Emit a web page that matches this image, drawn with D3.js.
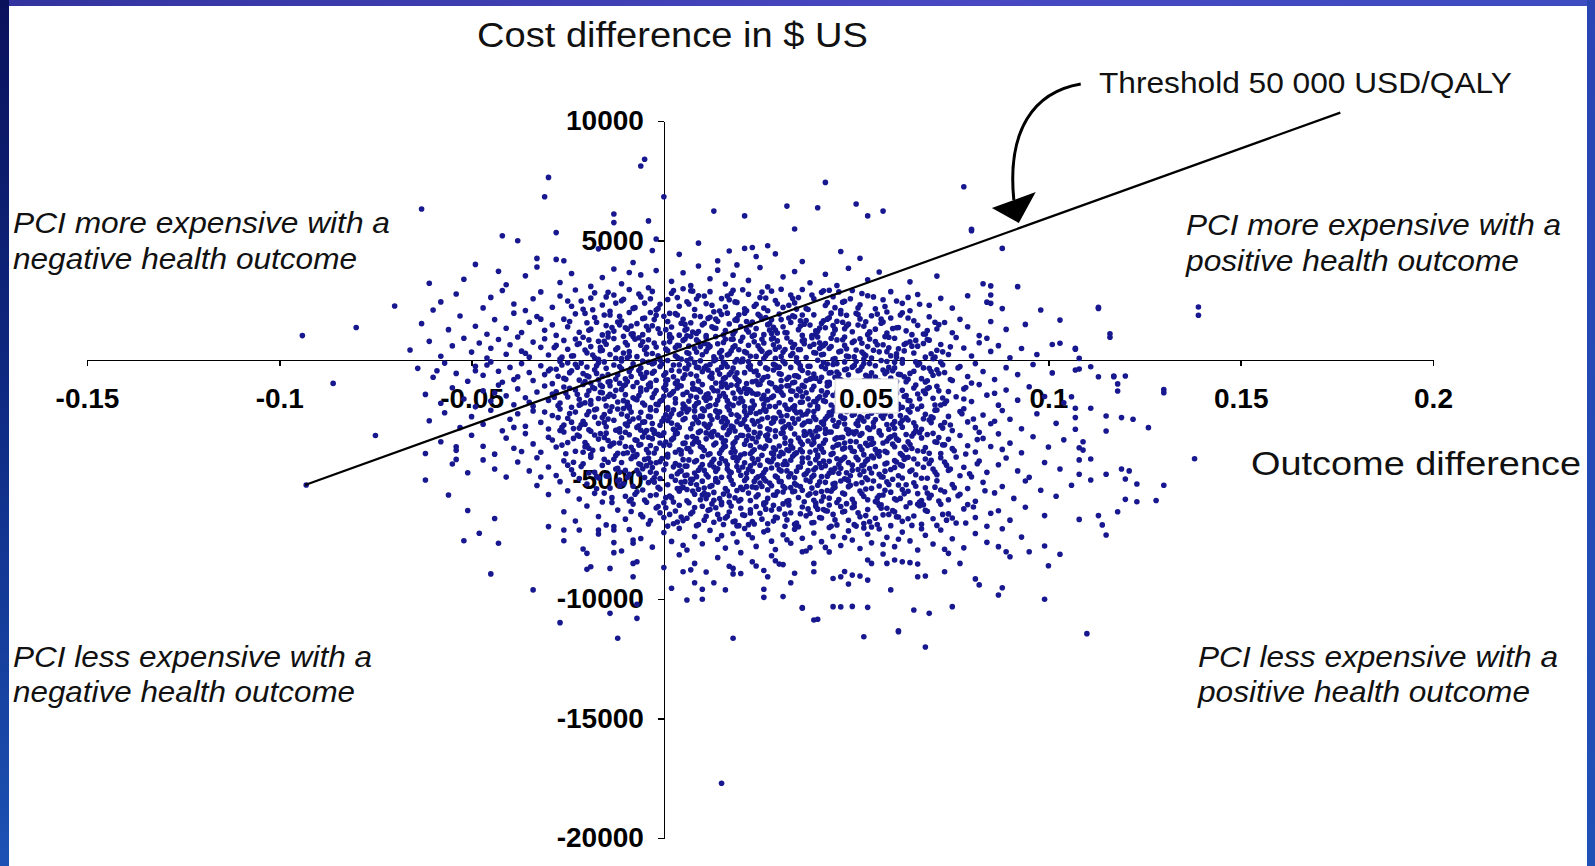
<!DOCTYPE html>
<meta charset="utf-8">
<title>PCI cost-effectiveness plane</title>
<style>

body {
  margin: 0;
  background: #fff;
}

svg {
  display: block;
  font-family: "Liberation Sans", Arial, sans-serif;
}

.axis path, .axis line {
  stroke: #000;
  stroke-width: 1.6;
  fill: none;
  shape-rendering: crispEdges;
}

.axis text, .tick-box text {
  font-size: 28px;
  font-weight: bold;
  fill: #000;
}

.label {
  fill: #111;
}

.quad {
  font-size: 29px;
  font-style: italic;
}

.dot {
  fill: #17178f;
}

</style>
<body>
<script src="https://d3js.org/d3.v7.min.js"></script>
<script>

var xTicks = [-0.15, -0.1, -0.05, 0.05, 0.1, 0.15, 0.2];
var yTicks = [10000, 5000, -5000, -10000, -15000, -20000];

// threshold 50 000 USD/QALY, drawn between its two visible ends
var thresholdLine = [[-0.0933, -5230], [0.1759, 10350]];

// curved arrow pointing at the threshold line (data units)
var arrowCurve = [[0.1084, 11548], [0.0962, 11213], [0.0892, 9623], [0.0910, 6694]];
var arrowHead = [[0.0853, 6360], [0.0967, 7029], [0.0923, 5732]];

// [outcome difference, cost difference] -- outliers and the thin edges of the cloud
var sparsePoints = [
  [-.005,8400],[-.006,8120],[-.030,7640],[-.031,6830],[.000,6830],[-.063,6320],[.013,6230],[.021,6030],[-.013,6110],
  [-.013,5750],[-.004,5820],[-.028,5330],[-.042,5200],[-.038,4990],[-.002,5060],[-.049,4000],[-.033,4250],[-.026,4150],
  [-.061,3210],[-.070,2260],[-.060,2090],[.017,4560],[.021,4670],[.023,4710],[.029,4440],
  [.042,7430],[.078,7250],[.032,6440],[.040,6370],[.050,6530],[.057,6230],[.053,6030],[.034,5480],[.080,5410],[.080,5470],
  [.088,4670],[.113,2160],[.116,950],[.103,1670],[.092,3070],[.098,2090],[.085,3100],[.085,2720],[.085,2370],
  [-.094,1020],[-.080,1360],[-.086,-980],[-.075,-3160],[-.093,-5230],[.139,2220],[.139,1870],[.138,-4130],[.116,1100],
  [.130,-1240],[.110,-11450],[.015,-17710],[.130,-5240],[.128,-5880],
  [.130,-1370],[.126,-2830],[.122,-2480],[.119,-2410],[.115,-2970],[.115,-2340],[.118,-1300],[.118,-1000],[.117,-670],
  [.120,-670],[.099,-10010],[.100,-8610],[.087,-9830],[.088,-9530],[.082,-9410],[.081,-9160],[.075,-10320],[.069,-10600],
  [.065,-10460],[.061,-11370],[.052,-11580],[.040,-10850],[.044,-10320],[.046,-10330],[.049,-10310],[.053,-10350],
  [.036,-10360],[.103,-8130],[.108,-6670],[.114,-6900],[.115,-7320],[.113,-6510],[.118,-6350],[.120,-5830],[.123,-5930],
  [.119,-4560],[.121,-4640],[.123,-5190],[.115,-4780],[.120,-4980],[.111,-4140],[.111,-5020],[.108,-4780],[.109,-3420],
  [.108,-3670],[.107,-2900],[.111,-2020],[.107,-2020],[.106,-1540],
  [-.059,-450],[-.049,-450],[-.046,-210],[-.062,-3910],[-.062,-5020],[-.056,-5650],[-.051,-6300],[-.052,-7560],
  [-.048,-7250],[-.044,-6630],[-.045,-8950],[-.043,-7670],[-.054,-3630],[-.054,-4160],[-.034,-9620],[-.019,-8650],
  [-.014,-8720],[-.008,-9070],[-.026,-7110],[-.022,-7110],[-.017,-7110],[-.013,-7110],[-.027,-10990],[-.007,-10220],
  [-.007,-10810],[-.012,-11640],[-.020,-8090],[-.020,-8760],[-.008,-8510],[-.007,-8440],[-.008,-7670],[-.008,-7530],
  [-.013,-8060],[-.014,-10600],[.018,-11640],[.068,-12010],[.061,-11330],
  [.107,450],[.108,70],[.107,-420],[.111,-280],[.113,-700],[.117,-700],[.103,700],[.113,2210],[.107,490],
  [.002,-9550],[.005,-8860],[.006,-10040],[.008,-9320],[.010,-10010],[.010,-9590],[.013,-9320],[.016,-9620],[.018,-8720],
  [.020,-8930],[.026,-9590],[.026,-9930],[.031,-9900],[.036,-10390],[.039,-10880],[.027,-9070],[.030,-8540],[.033,-9320],
  [.036,-8020],[.039,-8510],[.039,-8860],[.044,-9140],[.046,-9070],[.048,-9370],[.049,-9000],[.051,-9040],[.053,-9210],
  [.054,-8510],[.053,-8370],[.057,-8120],[.058,-8510],[.060,-8370],[.062,-8440],[.064,-8480],[.066,-8540],[.066,-9070],
  [.068,-9040],[.073,-8860],[.074,-8090],[.077,-8510],[.087,-7810],[.089,-8020],[.090,-8230],[.095,-8020],[.059,-9620]
];

// the body of the cloud, band by band (cost bands of 1000)
var cloudPoints = [
  // 4000 .. 5000
  [-.028,4210],[-.017,4650],[-.008,4080],[.004,4420],[.009,4890],[.014,4150],[.024,4330],[.027,4780],[.036,4120],
  [.046,4540],[.051,4260],[-.003,4580],
  // 3000 .. 4000
  [-.052,3380],[-.043,3710],[-.041,3150],[-.036,3520],[-.033,3890],[-.027,3240],[-.024,3620],[-.019,3080],[-.016,3450],
  [-.013,3810],[-.011,3190],[-.006,3560],[-.004,3020],[-.002,3740],[.002,3290],[.005,3650],[.007,3110],[.009,3930],
  [.012,3400],[.014,3760],[.016,3180],[.018,3550],[.022,3330],[.025,3870],[.027,3060],[.031,3480],[.034,3700],[.038,3230],
  [.042,3590],[.045,3120],[.048,3840],[.053,3360],[.056,3680],[.064,3270],[.071,3510],[.083,3190],[.019,3980],[-.009,3660],
  // 2000 .. 3000
  [-.058,2430],[-.054,2760],[-.047,2180],[-.045,2620],[-.042,2910],[-.039,2340],[-.036,2070],[-.034,2560],[-.032,2850],
  [-.029,2210],[-.027,2680],[-.025,2470],[-.023,2930],[-.021,2120],[-.019,2590],[-.018,2810],[-.016,2300],[-.014,2040],
  [-.013,2720],[-.011,2480],[-.009,2950],[-.008,2160],[-.006,2640],[-.005,2380],[-.003,2870],[-.002,2090],[.001,2530],
  [.002,2790],[.004,2250],[.005,2980],[.006,2440],[.008,2110],[.009,2690],[.011,2360],[.012,2860],[.013,2020],[.015,2570],
  [.016,2230],[.018,2920],[.019,2410],[.021,2140],[.022,2750],[.024,2330],[.025,2610],[.027,2060],[.028,2880],[.029,2490],
  [.031,2200],[.033,2720],[.034,2390],[.036,2950],[.037,2150],[.039,2560],[.041,2830],[.042,2280],[.044,2650],[.046,2070],
  [.047,2460],[.049,2910],[.051,2310],[.053,2690],[.055,2140],[.057,2520],[.059,2860],[.062,2370],[.064,2060],[.066,2740],
  [.069,2290],[.072,2580],[.075,2170],[.079,2690],[.084,2420],[.088,2150],[-.015,2640],[.007,2900],[.017,2520],[.026,2170],
  [.035,2610],[.043,2920],[-.001,2330],[-.024,2250],[.058,2010],
  // 1000 .. 2000
  [-.063,1520],[-.056,1270],[-.053,1840],[-.049,1410],[-.046,1080],[-.044,1690],[-.041,1330],[-.039,1960],[-.037,1150],
  [-.035,1580],[-.033,1820],[-.031,1240],[-.029,1470],[-.028,1030],[-.026,1710],[-.025,1390],[-.023,1930],[-.022,1160],
  [-.020,1560],[-.019,1290],[-.018,1780],[-.016,1050],[-.015,1440],[-.014,1880],[-.013,1210],[-.011,1630],[-.010,1350],
  [-.009,1990],[-.008,1100],[-.007,1520],[-.005,1760],[-.004,1260],[-.003,1430],[-.002,1870],[-.001,1120],[.001,1610],
  [.002,1380],[.003,1940],[.004,1040],[.005,1700],[.006,1300],[.007,1560],[.008,1850],[.009,1190],[.010,1470],[.011,1020],
  [.012,1790],[.013,1340],[.014,1620],[.015,1900],[.016,1230],[.017,1510],[.018,1080],[.019,1730],[.020,1400],[.021,1960],
  [.022,1170],[.023,1590],[.024,1320],[.025,1840],[.026,1060],[.027,1480],[.028,1680],[.029,1250],[.030,1920],[.031,1390],
  [.032,1140],[.033,1570],[.034,1810],[.035,1270],[.036,1030],[.037,1650],[.038,1460],[.039,1890],[.040,1200],[.041,1540],
  [.042,1350],[.043,1770],[.044,1090],[.045,1620],[.046,1940],[.047,1310],[.048,1500],[.049,1180],[.051,1720],[.052,1410],
  [.053,1060],[.054,1850],[.055,1290],[.057,1590],[.058,1130],[.059,1760],[.061,1360],[.062,1980],[.063,1220],[.065,1640],
  [.066,1450],[.068,1080],[.069,1810],[.071,1300],[.073,1570],[.075,1140],[.077,1700],[.079,1390],[.082,1020],[.085,1610],
  [.089,1280],[.094,1490],[-.012,1590],[.000,1830],[.006,1010],[.019,1660],[.028,1110],[.036,1880],[.044,1440],[.050,1950],
  [-.032,1710],
  // 0 .. 1000
  [-.066,420],[-.061,780],[-.058,160],[-.055,590],[-.052,910],[-.050,330],[-.048,710],[-.046,80],[-.045,490],[-.043,860],
  [-.041,240],[-.040,640],[-.038,960],[-.037,370],[-.035,120],[-.034,750],[-.032,530],[-.031,890],[-.030,210],[-.028,610],
  [-.027,40],[-.026,820],[-.025,450],[-.024,170],[-.022,690],[-.021,950],[-.020,300],[-.019,560],[-.018,90],[-.017,780],
  [-.016,410],[-.015,660],[-.014,230],[-.013,900],[-.012,510],[-.011,60],[-.010,730],[-.009,350],[-.008,980],[-.007,140],
  [-.006,620],[-.005,430],[-.004,850],[-.003,270],[-.002,540],[-.001,10],[.000,710],[.001,390],[.002,930],[.003,180],
  [.004,600],[.005,820],[.006,310],[.007,50],[.008,480],[.009,760],[.010,220],[.011,940],[.012,570],[.013,130],[.014,680],
  [.015,400],[.016,870],[.017,260],[.018,530],[.019,20],[.020,790],[.021,350],[.022,620],[.023,990],[.024,150],[.025,460],
  [.026,710],[.027,280],[.028,880],[.029,70],[.030,540],[.031,330],[.032,920],[.033,190],[.034,650],[.035,440],[.036,800],
  [.037,100],[.038,570],[.039,310],[.040,960],[.041,220],[.042,690],[.043,480],[.044,30],[.045,840],[.046,370],[.047,610],
  [.048,140],[.049,730],[.050,420],[.051,890],[.052,250],[.053,560],[.054,80],[.055,770],[.056,340],[.057,640],[.059,180],
  [.060,910],[.061,470],[.062,20],[.063,700],[.065,290],[.066,580],[.068,120],[.069,830],[.071,410],[.072,650],[.074,230],
  [.076,940],[.078,500],[.080,170],[.082,720],[.085,360],[.087,600],[.090,90],[.093,480],[.097,230],[.101,650],[-.023,880],
  [-.009,160],[.003,520],[.011,360],[.018,870],[.026,60],[.033,750],[.041,560],[.047,960],[.058,350],[.064,760],[-.017,30],
  [.007,990],[.015,110],[.029,450],[.039,660],[.052,40],[-.036,280],[.070,50],[.084,910],
  // -1000 .. 0
  [-.064,-350],[-.060,-720],[-.057,-130],[-.054,-560],[-.051,-890],[-.049,-260],[-.047,-640],[-.045,-80],[-.043,-470],
  [-.042,-930],[-.040,-310],[-.038,-700],[-.037,-150],[-.035,-520],[-.034,-860],[-.032,-240],[-.031,-610],[-.029,-990],
  [-.028,-390],[-.027,-60],[-.026,-770],[-.024,-450],[-.023,-180],[-.022,-840],[-.021,-570],[-.020,-290],[-.019,-960],
  [-.018,-410],[-.017,-120],[-.016,-680],[-.015,-350],[-.014,-900],[-.013,-210],[-.012,-620],[-.011,-40],[-.010,-790],
  [-.009,-480],[-.008,-160],[-.007,-940],[-.006,-330],[-.005,-710],[-.004,-90],[-.003,-550],[-.002,-850],[-.001,-270],
  [.000,-640],[.001,-20],[.002,-430],[.003,-980],[.004,-200],[.005,-760],[.006,-370],[.007,-590],[.008,-110],[.009,-880],
  [.010,-490],[.011,-250],[.012,-700],[.013,-30],[.014,-420],[.015,-950],[.016,-170],[.017,-610],[.018,-340],[.019,-820],
  [.020,-70],[.021,-530],[.022,-280],[.023,-910],[.024,-460],[.025,-140],[.026,-730],[.027,-380],[.028,-990],[.029,-220],
  [.030,-570],[.031,-50],[.032,-800],[.033,-310],[.034,-660],[.035,-120],[.036,-440],[.037,-870],[.038,-260],[.039,-590],
  [.040,-10],[.041,-720],[.042,-360],[.043,-930],[.044,-190],[.045,-500],[.046,-830],[.047,-80],[.048,-620],[.049,-300],
  [.050,-960],[.051,-410],[.052,-150],[.053,-690],[.054,-540],[.055,-240],[.056,-880],[.057,-420],[.058,-60],[.059,-750],
  [.060,-330],[.061,-600],[.062,-130],[.063,-910],[.065,-470],[.066,-210],[.067,-780],[.069,-350],[.070,-640],[.072,-90],
  [.073,-520],[.075,-860],[.077,-270],[.079,-690],[.081,-150],[.083,-480],[.086,-820],[.089,-320],[.092,-610],[.096,-190],
  [.101,-540],[.108,-380],[-.030,-450],[-.017,-830],[-.006,-590],[.004,-460],[.012,-190],[.019,-540],[.027,-690],
  [.034,-930],[.041,-270],[.047,-410],[.055,-710],[.064,-560],[-.025,-120],[-.011,-370],[.001,-830],[.009,-320],[.016,-730],
  [.022,-60],[.030,-300],[.038,-800],[.045,-150],[.052,-870],[.060,-90],[.068,-920],[-.020,-660],[.006,-20],[.024,-880],
  [.043,-540],[.071,-410],[.080,-960],[-.039,-820],[-.003,-160],[.015,-300],[.035,-710],[.050,-60],[.058,-490],
  // -2000 .. -1000
  [-.062,-1440],[-.058,-1810],[-.055,-1160],[-.052,-1630],[-.049,-1960],[-.047,-1290],[-.045,-1720],[-.043,-1050],
  [-.041,-1500],[-.039,-1870],[-.038,-1210],[-.036,-1580],[-.034,-1930],[-.033,-1340],[-.031,-1090],[-.030,-1690],
  [-.029,-1420],[-.027,-1800],[-.026,-1130],[-.025,-1550],[-.024,-1980],[-.023,-1260],[-.022,-1640],[-.021,-1020],
  [-.020,-1470],[-.019,-1850],[-.018,-1190],[-.017,-1610],[-.016,-1370],[-.015,-1920],[-.014,-1080],[-.013,-1520],
  [-.012,-1760],[-.011,-1230],[-.010,-1450],[-.009,-1940],[-.008,-1110],[-.007,-1660],[-.006,-1320],[-.005,-1880],
  [-.004,-1040],[-.003,-1570],[-.002,-1280],[-.001,-1730],[.000,-1160],[.001,-1990],[.002,-1400],[.003,-1620],[.004,-1070],
  [.005,-1840],[.006,-1350],[.007,-1510],[.008,-1210],[.009,-1780],[.010,-1030],[.011,-1460],[.012,-1910],[.013,-1280],
  [.014,-1680],[.015,-1120],[.016,-1540],[.017,-1830],[.018,-1380],[.019,-1060],[.020,-1600],[.021,-1950],[.022,-1240],
  [.023,-1720],[.024,-1430],[.025,-1010],[.026,-1860],[.027,-1300],[.028,-1570],[.029,-1150],[.030,-1790],[.031,-1470],
  [.032,-1080],[.033,-1650],[.034,-1920],[.035,-1220],[.036,-1530],[.037,-1370],[.038,-1880],[.039,-1100],[.040,-1610],
  [.041,-1290],[.042,-1740],[.043,-1040],[.044,-1480],[.045,-1970],[.046,-1190],[.047,-1560],[.048,-1330],[.049,-1810],
  [.050,-1090],[.051,-1680],[.052,-1410],[.053,-1230],[.054,-1900],[.055,-1520],[.056,-1140],[.057,-1770],[.058,-1360],
  [.059,-1620],[.060,-1050],[.061,-1850],[.062,-1270],[.063,-1490],[.064,-1710],[.065,-1170],[.067,-1930],[.068,-1400],
  [.070,-1600],[.071,-1100],[.073,-1820],[.074,-1320],[.076,-1540],[.078,-1210],[.080,-1740],[.082,-1030],[.084,-1470],
  [.087,-1890],[.089,-1260],[.092,-1680],[.095,-1120],[.099,-1530],[.104,-1790],[-.028,-1330],[-.019,-1700],[-.010,-1040],
  [-.002,-1850],[.005,-1440],[.011,-1690],[.016,-1010],[.023,-1380],[.029,-1950],[.036,-1060],[.042,-1470],[.048,-1640],
  [.055,-1290],[.062,-1980],[-.035,-1770],[-.014,-1430],[.000,-1520],[.008,-1930],[.014,-1300],[.021,-1190],[.027,-1660],
  [.033,-1290],[.039,-1740],[.045,-1350],[.051,-1060],[.059,-1930],[.066,-1420],[-.022,-1890],[-.006,-1170],[.003,-1800],
  [.018,-1900],[.026,-1480],[.040,-1950],[.053,-1620],[.072,-1880],[-.044,-1370],[.012,-1590],[.030,-1220],[.047,-1900],
  [.069,-1150],[.078,-1630],[.086,-1390],[-.008,-1580],[.020,-1340],[.036,-1760],[.057,-1040],[-.016,-1110],[.009,-1250],
  // -3000 .. -2000
  [-.061,-2540],[-.057,-2210],[-.053,-2830],[-.050,-2370],[-.047,-2690],[-.045,-2100],[-.042,-2960],[-.040,-2480],
  [-.038,-2250],[-.036,-2770],[-.034,-2130],[-.032,-2610],[-.030,-2890],[-.029,-2320],[-.027,-2050],[-.026,-2720],
  [-.025,-2440],[-.023,-2180],[-.022,-2850],[-.021,-2560],[-.020,-2290],[-.019,-2980],[-.018,-2080],[-.017,-2650],
  [-.016,-2410],[-.015,-2790],[-.014,-2140],[-.013,-2520],[-.012,-2930],[-.011,-2260],[-.010,-2680],[-.009,-2020],
  [-.008,-2470],[-.007,-2820],[-.006,-2190],[-.005,-2590],[-.004,-2360],[-.003,-2910],[-.002,-2110],[-.001,-2730],
  [.000,-2430],[.001,-2070],[.002,-2640],[.003,-2950],[.004,-2280],[.005,-2500],[.006,-2170],[.007,-2870],[.008,-2390],
  [.009,-2620],[.010,-2040],[.011,-2760],[.012,-2330],[.013,-2990],[.014,-2210],[.015,-2580],[.016,-2460],[.017,-2090],
  [.018,-2810],[.019,-2300],[.020,-2690],[.021,-2150],[.022,-2920],[.023,-2530],[.024,-2240],[.025,-2780],[.026,-2060],
  [.027,-2410],[.028,-2640],[.029,-2960],[.030,-2190],[.031,-2550],[.032,-2320],[.033,-2850],[.034,-2100],[.035,-2470],
  [.036,-2720],[.037,-2260],[.038,-2990],[.039,-2380],[.040,-2030],[.041,-2610],[.042,-2890],[.043,-2200],[.044,-2520],
  [.045,-2770],[.046,-2140],[.047,-2440],[.048,-2930],[.049,-2310],[.050,-2670],[.051,-2080],[.052,-2560],[.053,-2840],
  [.054,-2230],[.055,-2490],[.056,-2960],[.057,-2120],[.058,-2700],[.059,-2350],[.060,-2580],[.061,-2050],[.062,-2810],
  [.063,-2420],[.064,-2180],[.065,-2630],[.067,-2900],[.068,-2270],[.069,-2510],[.071,-2090],[.072,-2740],[.074,-2360],
  [.075,-2950],[.077,-2160],[.079,-2590],[.081,-2830],[.083,-2300],[.085,-2670],[.088,-2110],[.090,-2480],[.093,-2880],
  [.097,-2250],[.102,-2650],[.107,-2410],[-.024,-2600],[-.012,-2050],[-.003,-2660],[.004,-2820],[.010,-2360],[.016,-2730],
  [.021,-2490],[.027,-2880],[.032,-2040],[.038,-2570],[.044,-2130],[.050,-2990],[.057,-2430],[.066,-2050],[-.031,-2180],
  [-.018,-2390],[-.006,-2940],[.002,-2250],[.008,-2130],[.014,-2400],[.019,-2580],[.025,-2170],[.031,-2870],[.036,-2300],
  [.042,-2460],[.047,-2680],[.053,-2370],[.060,-2860],[.070,-2420],[.078,-2040],[-.039,-2820],[-.009,-2570],[.005,-2030],
  [.012,-2690],[.023,-2030],[.029,-2440],[.034,-2640],[.040,-2830],[.046,-2360],[.055,-2060],[.062,-2520],[.086,-2560],
  [-.027,-2950],[.001,-2530],[.017,-2940],[.039,-2160],[.051,-2380],[.073,-2620],
  // -4000 .. -3000
  [-.058,-3420],[-.054,-3780],[-.050,-3150],[-.047,-3610],[-.044,-3940],[-.041,-3270],[-.039,-3690],[-.036,-3080],
  [-.034,-3510],[-.032,-3860],[-.030,-3230],[-.028,-3640],[-.026,-3010],[-.025,-3450],[-.023,-3820],[-.022,-3190],
  [-.020,-3570],[-.019,-3970],[-.017,-3310],[-.016,-3730],[-.015,-3060],[-.013,-3480],[-.012,-3900],[-.011,-3250],
  [-.010,-3620],[-.009,-3130],[-.008,-3790],[-.007,-3370],[-.006,-3540],[-.005,-3040],[-.004,-3880],[-.003,-3290],
  [-.002,-3710],[-.001,-3160],[.000,-3580],[.001,-3950],[.002,-3340],[.003,-3100],[.004,-3760],[.005,-3490],[.006,-3220],
  [.007,-3840],[.008,-3410],[.009,-3030],[.010,-3660],[.011,-3300],[.012,-3920],[.013,-3550],[.014,-3140],[.015,-3770],
  [.016,-3380],[.017,-3020],[.018,-3690],[.019,-3250],[.020,-3980],[.021,-3520],[.022,-3170],[.023,-3830],[.024,-3430],
  [.025,-3060],[.026,-3700],[.027,-3330],[.028,-3890],[.029,-3200],[.030,-3600],[.031,-3050],[.032,-3760],[.033,-3390],
  [.034,-3940],[.035,-3270],[.036,-3530],[.037,-3110],[.038,-3850],[.039,-3460],[.040,-3190],[.041,-3720],[.042,-3350],
  [.043,-3010],[.044,-3900],[.045,-3560],[.046,-3240],[.047,-3680],[.048,-3080],[.049,-3810],[.050,-3420],[.051,-3150],
  [.052,-3960],[.053,-3580],[.054,-3290],[.055,-3740],[.056,-3040],[.057,-3470],[.058,-3870],[.059,-3210],[.060,-3630],
  [.061,-3360],[.062,-3990],[.063,-3120],[.064,-3540],[.066,-3800],[.067,-3260],[.068,-3660],[.070,-3070],[.071,-3440],
  [.072,-3910],[.074,-3320],[.075,-3710],[.077,-3160],[.079,-3590],[.081,-3850],[.083,-3280],[.085,-3620],[.087,-3090],
  [.090,-3480],[.093,-3880],[.096,-3210],[.100,-3640],[.104,-3340],[.109,-3770],[-.021,-3860],[-.010,-3020],[-.001,-3470],
  [.006,-3700],[.012,-3130],[.018,-3500],[.023,-3280],[.029,-3760],[.034,-3100],[.040,-3980],[.045,-3250],[.051,-3620],
  [.058,-3390],[.065,-3070],[-.029,-3350],[-.014,-3600],[-.004,-3230],[.003,-3860],[.009,-3440],[.015,-3260],[.021,-3920],
  [.027,-3130],[.033,-3580],[.039,-3300],[.044,-3650],[.049,-3010],[.056,-3830],[.063,-3740],[.073,-3550],[.082,-3020],
  [-.037,-3830],[-.007,-3960],[.011,-3050],[.025,-3640],[.036,-3840],[.047,-3470],[.060,-3140],[.069,-3900],[-.018,-3140],
  [.000,-3050],[.016,-3610],[.031,-3920],[.042,-3060],[.054,-3520],[.088,-3740],[.020,-3150],
  // -5000 .. -4000
  [-.055,-4350],[-.051,-4720],[-.047,-4180],[-.044,-4560],[-.041,-4900],[-.038,-4270],[-.035,-4640],[-.033,-4090],
  [-.030,-4480],[-.028,-4830],[-.026,-4220],[-.024,-4590],[-.022,-4960],[-.021,-4340],[-.019,-4070],[-.018,-4700],
  [-.016,-4410],[-.015,-4850],[-.013,-4150],[-.012,-4530],[-.011,-4290],[-.009,-4780],[-.008,-4020],[-.007,-4620],
  [-.006,-4380],[-.005,-4920],[-.004,-4110],[-.003,-4500],[-.002,-4740],[-.001,-4250],[.000,-4590],[.001,-4060],
  [.002,-4870],[.003,-4330],[.004,-4680],[.005,-4170],[.006,-4440],[.007,-4990],[.008,-4260],[.009,-4610],[.010,-4040],
  [.011,-4790],[.012,-4390],[.013,-4150],[.014,-4550],[.015,-4910],[.016,-4230],[.017,-4670],[.018,-4080],[.019,-4460],
  [.020,-4820],[.021,-4300],[.022,-4570],[.023,-4120],[.024,-4950],[.025,-4400],[.026,-4710],[.027,-4200],[.028,-4520],
  [.029,-4860],[.030,-4030],[.031,-4370],[.032,-4640],[.033,-4190],[.034,-4930],[.035,-4480],[.036,-4100],[.037,-4750],
  [.038,-4320],[.039,-4590],[.040,-4050],[.041,-4880],[.042,-4420],[.043,-4240],[.044,-4690],[.045,-4130],[.046,-4530],
  [.047,-4970],[.048,-4290],[.049,-4610],[.050,-4070],[.051,-4800],[.052,-4380],[.053,-4160],[.054,-4730],[.055,-4460],
  [.056,-4020],[.057,-4900],[.058,-4310],[.059,-4580],[.060,-4210],[.061,-4840],[.062,-4430],[.063,-4090],[.064,-4660],
  [.066,-4350],[.067,-4950],[.068,-4140],[.070,-4560],[.071,-4800],[.073,-4270],[.074,-4620],[.076,-4060],[.078,-4490],
  [.080,-4890],[.082,-4230],[.084,-4700],[.087,-4380],[.089,-4100],[.092,-4640],[.095,-4910],[.099,-4290],[.103,-4560],
  [.108,-4180],[-.025,-4400],[-.010,-4620],[-.002,-4300],[.006,-4810],[.013,-4480],[.019,-4240],[.026,-4960],[.032,-4370],
  [.039,-4820],[.046,-4200],[.052,-4650],[.060,-4500],[.069,-4330],[-.017,-4930],[-.005,-4160],[.004,-4410],[.010,-4370],
  [.017,-4890],[.023,-4660],[.030,-4580],[.036,-4280],[.043,-4740],[.049,-4400],[.056,-4780],[.065,-4140],[.077,-4840],
  [-.032,-4900],[-.001,-4960],[.015,-4120],[.028,-4250],[.041,-4500],[.054,-4020],[.072,-4090],[.008,-4730],[.033,-4760],
  [.047,-4070],[.062,-4940],
  // -6000 .. -5000
  [-.033,-5250],[-.030,-5630],[-.027,-5090],[-.025,-5470],[-.022,-5820],[-.020,-5190],[-.018,-5580],[-.016,-5940],
  [-.014,-5360],[-.012,-5050],[-.010,-5700],[-.008,-5280],[-.007,-5510],[-.005,-5860],[-.004,-5130],[-.002,-5640],
  [-.001,-5400],[.000,-5970],[.001,-5220],[.002,-5760],[.003,-5030],[.004,-5490],[.005,-5330],[.006,-5890],[.007,-5160],
  [.008,-5620],[.009,-5410],[.010,-5070],[.011,-5800],[.012,-5290],[.013,-5540],[.014,-5110],[.015,-5950],[.016,-5380],
  [.017,-5680],[.018,-5200],[.019,-5460],[.020,-5840],[.021,-5040],[.022,-5570],[.023,-5310],[.024,-5720],[.025,-5150],
  [.026,-5990],[.027,-5430],[.028,-5260],[.029,-5660],[.030,-5080],[.031,-5520],[.032,-5910],[.033,-5340],[.034,-5170],
  [.035,-5750],[.036,-5450],[.037,-5020],[.038,-5600],[.039,-5870],[.040,-5240],[.041,-5500],[.042,-5120],[.043,-5780],
  [.044,-5390],[.045,-5960],[.046,-5060],[.047,-5610],[.048,-5300],[.049,-5830],[.050,-5180],[.051,-5480],[.052,-5710],
  [.053,-5010],[.054,-5370],[.055,-5920],[.056,-5270],[.057,-5650],[.058,-5100],[.059,-5530],[.060,-5810],[.061,-5230],
  [.062,-5420],[.064,-5980],[.065,-5140],[.066,-5590],[.068,-5350],[.069,-5770],[.071,-5050],[.072,-5440],[.074,-5850],
  [.075,-5210],[.077,-5620],[.079,-5380],[.081,-5910],[.083,-5120],[.086,-5560],[.088,-5290],[.091,-5790],[.094,-5060],
  [.098,-5450],[.102,-5700],[.106,-5240],[-.003,-5030],[.006,-5420],[.013,-5870],[.020,-5330],[.027,-5790],[.034,-5490],
  [.041,-5900],[.048,-5050],[.056,-5670],[.063,-5220],[.073,-5510],[.010,-5650],[.017,-5950],[.031,-5280],[.044,-5190],
  [.053,-5850],[-.009,-5900],[.024,-5340],[.038,-5080],[.067,-5880],
  // -7000 .. -6000
  [-.030,-6970],[-.026,-6350],[-.023,-6740],[-.020,-6110],[-.017,-6550],[-.015,-6900],[-.012,-6280],[-.010,-6660],
  [-.008,-6030],[-.006,-6470],[-.004,-6860],[-.002,-6190],[.000,-6590],[.001,-6950],[.003,-6320],[.004,-6080],[.005,-6720],
  [.007,-6430],[.008,-6170],[.009,-6880],[.011,-6540],[.012,-6260],[.013,-6790],[.015,-6050],[.016,-6610],[.017,-6360],
  [.019,-6940],[.020,-6200],[.021,-6500],[.023,-6760],[.024,-6130],[.025,-6410],[.027,-6850],[.028,-6280],[.029,-6570],
  [.031,-6020],[.032,-6690],[.033,-6390],[.035,-6980],[.036,-6150],[.037,-6520],[.039,-6800],[.040,-6240],[.041,-6610],
  [.043,-6070],[.044,-6460],[.045,-6900],[.047,-6330],[.048,-6710],[.049,-6180],[.051,-6560],[.052,-6840],[.053,-6260],
  [.055,-6620],[.056,-6090],[.057,-6480],[.059,-6930],[.060,-6350],[.062,-6750],[.063,-6140],[.065,-6530],[.067,-6870],
  [.068,-6290],[.070,-6640],[.072,-6040],[.074,-6440],[.076,-6820],[.078,-6230],[.081,-6590],[.084,-6960],[.087,-6310],
  [.090,-6700],[.094,-6160],[.099,-6510],[.010,-6120],[.018,-6770],[.026,-6060],[.034,-6870],[.042,-6300],[.050,-6950],
  [.058,-6200],[.066,-6040],[.075,-6610],[-.001,-6390],[.014,-6460],[.022,-6890],[.030,-6230],[.038,-6420],[.046,-6130],
  [.054,-6990],[.061,-6570],[.071,-6920],[.006,-6620],[-.013,-6970],[.079,-6050],[.085,-6410],
  // -8000 .. -7000
  [-.026,-7560],[-.021,-7910],[-.017,-7280],[-.013,-7640],[-.009,-7090],[-.006,-7470],[-.003,-7830],[.000,-7220],
  [.002,-7590],[.004,-7040],[.006,-7950],[.008,-7390],[.010,-7690],[.012,-7130],[.014,-7510],[.016,-7870],[.018,-7260],
  [.019,-7620],[.021,-7050],[.023,-7440],[.024,-7800],[.026,-7190],[.028,-7580],[.029,-7930],[.031,-7310],[.033,-7670],
  [.034,-7080],[.036,-7460],[.038,-7850],[.039,-7240],[.041,-7600],[.043,-7010],[.044,-7380],[.046,-7760],[.048,-7150],
  [.049,-7530],[.051,-7890],[.053,-7290],[.054,-7650],[.056,-7070],[.058,-7420],[.060,-7810],[.062,-7200],[.064,-7570],
  [.066,-7950],[.068,-7330],[.070,-7700],[.072,-7110],[.075,-7480],[.078,-7860],[.081,-7260],[.084,-7630],[.088,-7060],
  [.093,-7410],[.099,-7780],[.015,-7350],[.027,-7120],[.037,-7990],[.047,-7430],[.057,-7720],[.067,-7060],[.005,-7750],
  [.022,-7300],[.032,-7520],[.042,-7840],[.052,-7030],[.061,-7500],[.073,-7920],[-.011,-7990],
  // -9000 .. -8000
  [.000,-8680],[.004,-8150],[.008,-8510],[.011,-8870],[.014,-8270],[.017,-8630],[.020,-8060],[.023,-8440],[.026,-8810],
  [.028,-8190],[.031,-8560],[.034,-8920],[.007,-8780],[.018,-8950],[.029,-8400],[.024,-8620],[.043,-8030],[.047,-8850]
];

// the darkest part of the cloud, where the points pile on top of each other
var cloudCore = [
  // 2000 .. 3000
  [-.0215,2470],[-.0145,2830],[-.0075,2190],[-.0035,2560],[.0025,2910],[.0065,2340],[.0105,2680],[.0145,2050],
  [.0175,2780],[.0235,2250],[.0265,2590],[.0305,2960],[.0345,2130],[.0385,2720],[.0425,2400],[.0455,2850],[.0505,2180],
  [.0545,2640],[.0605,2470],[.0665,2330],[-.0185,2100],[.0085,2550],[.0205,2940],[.0325,2290],[.0485,2560],
  // 1000 .. 2000
  [-.0245,1610],[-.0195,1240],[-.0155,1880],[-.0115,1470],[-.0085,1090],[-.0055,1730],[-.0015,1310],[.0015,1950],
  [.0045,1540],[.0075,1170],[.0095,1820],[.0125,1390],[.0155,1050],[.0185,1670],[.0215,1280],[.0245,1910],[.0275,1520],
  [.0295,1130],[.0325,1760],[.0355,1420],[.0385,1020],[.0415,1640],[.0445,1290],[.0475,1870],[.0505,1460],[.0535,1150],
  [.0565,1710],[.0605,1350],[.0645,1060],[.0705,1580],[-.0135,1360],[-.0035,1990],[.0055,1250],[.0135,1710],[.0225,1480],
  [.0305,1690],[.0395,1220],[.0465,1580],[.0555,1920],[.0685,1230],
  // 0 .. 1000
  [-.0285,520],[-.0235,180],[-.0195,840],[-.0165,390],[-.0125,70],[-.0095,630],[-.0065,930],[-.0045,250],[-.0025,710],
  [.0005,460],[.0035,110],[.0055,880],[.0085,330],[.0115,650],[.0135,980],[.0165,210],[.0185,590],[.0205,40],[.0235,760],
  [.0255,370],[.0285,920],[.0305,140],[.0335,520],[.0365,830],[.0395,290],[.0415,610],[.0445,60],[.0475,470],[.0495,790],
  [.0525,190],[.0555,640],[.0585,950],[.0625,380],[.0655,820],[.0695,260],[.0745,550],[-.0205,420],[-.0105,290],
  [.0015,760],[.0095,560],[.0175,870],[.0265,180],[.0355,440],[.0435,910],[.0515,330],[.0605,120],[.0675,690],[-.0145,960],
  [.0215,300],[.0405,720],
  // -1000 .. 0
  [-.0295,-380],[-.0255,-810],[-.0215,-130],[-.0175,-560],[-.0145,-920],[-.0115,-270],[-.0085,-690],[-.0055,-40],
  [-.0025,-470],[.0005,-850],[.0025,-210],[.0055,-620],[.0075,-990],[.0105,-340],[.0125,-760],[.0155,-100],[.0175,-510],
  [.0195,-880],[.0225,-230],[.0245,-640],[.0275,-950],[.0295,-310],[.0325,-720],[.0345,-60],[.0375,-540],[.0405,-890],
  [.0425,-170],[.0455,-600],[.0485,-960],[.0515,-280],[.0535,-700],[.0565,-20],[.0595,-450],[.0635,-810],[.0665,-150],
  [.0715,-570],[.0765,-330],[-.0195,-700],[-.0095,-900],[-.0005,-160],[.0085,-300],[.0145,-590],[.0215,-990],[.0285,-420],
  [.0355,-240],[.0395,-760],[.0475,-380],[.0545,-900],[.0615,-610],[.0685,-870],[-.0265,-210],[-.0045,-530],[.0185,-80],
  [.0305,-860],[.0445,-720],
  // -2000 .. -1000
  [-.0285,-1560],[-.0245,-1180],[-.0205,-1790],[-.0165,-1350],[-.0135,-1960],[-.0105,-1080],[-.0075,-1630],
  [-.0045,-1240],[-.0015,-1870],[.0015,-1460],[.0045,-1090],[.0065,-1720],[.0095,-1330],[.0115,-1950],[.0145,-1510],
  [.0165,-1150],[.0195,-1800],[.0215,-1390],[.0245,-1030],[.0265,-1670],[.0295,-1270],[.0315,-1890],[.0345,-1490],
  [.0365,-1120],[.0395,-1750],[.0425,-1360],[.0445,-1990],[.0475,-1420],[.0505,-1180],[.0535,-1820],[.0565,-1450],
  [.0595,-1070],[.0635,-1690],[.0675,-1300],[.0725,-1590],[.0785,-1150],[-.0225,-1430],[-.0095,-1770],[.0005,-1260],
  [.0085,-1560],[.0125,-1160],[.0185,-1600],[.0235,-1880],[.0305,-1120],[.0375,-1620],[.0455,-1200],[.0525,-1580],
  [.0585,-1900],[.0655,-1050],[-.0165,-1050],[-.0035,-1990],[.0165,-1960],[.0335,-1310],[.0485,-1770],[.0705,-1880],
  // -3000 .. -2000
  [-.0275,-2410],[-.0235,-2870],[-.0195,-2160],[-.0155,-2620],[-.0125,-2940],[-.0095,-2350],[-.0065,-2750],
  [-.0035,-2080],[-.0005,-2560],[.0025,-2900],[.0045,-2230],[.0075,-2680],[.0105,-2120],[.0125,-2490],[.0155,-2830],
  [.0175,-2270],[.0205,-2640],[.0225,-2010],[.0255,-2470],[.0275,-2920],[.0305,-2340],[.0325,-2700],[.0355,-2180],
  [.0375,-2560],[.0405,-2880],[.0435,-2300],[.0455,-2620],[.0485,-2060],[.0515,-2430],[.0545,-2790],[.0575,-2260],
  [.0615,-2650],[.0655,-2960],[.0695,-2380],[.0745,-2720],[.0805,-2470],[-.0215,-2710],[-.0105,-2030],[.0015,-2380],
  [.0095,-2970],[.0145,-2170],[.0215,-2800],[.0265,-2140],[.0335,-2450],[.0415,-2590],[.0475,-2900],[.0555,-2130],
  [.0635,-2510],[.0705,-2100],[-.0045,-2950],[.0055,-2450],[.0195,-2380],[.0365,-2990],[.0505,-2740],[.0285,-2580],
  // -4000 .. -3000
  [-.0265,-3560],[-.0225,-3140],[-.0185,-3780],[-.0145,-3370],[-.0115,-3010],[-.0085,-3650],[-.0055,-3220],
  [-.0025,-3890],[.0005,-3430],[.0035,-3070],[.0065,-3710],[.0085,-3290],[.0115,-3960],[.0135,-3480],[.0165,-3120],
  [.0185,-3830],[.0215,-3360],[.0235,-3030],[.0265,-3600],[.0285,-3940],[.0315,-3250],[.0335,-3680],[.0365,-3150],
  [.0385,-3540],[.0415,-3860],[.0445,-3310],[.0465,-3720],[.0495,-3090],[.0525,-3490],[.0555,-3910],[.0585,-3270],
  [.0625,-3640],[.0665,-3040],[.0705,-3420],[.0755,-3800],[.0815,-3330],[-.0205,-3450],[-.0095,-3880],[-.0005,-3150],
  [.0075,-3510],[.0155,-3660],[.0245,-3220],[.0305,-3860],[.0375,-3390],[.0435,-3010],[.0515,-3760],[.0595,-3520],
  [.0675,-3820],[-.0035,-3580],[.0125,-3210],[.0225,-3920],[.0355,-3750],[.0485,-3400],[.0645,-3180],[.0045,-3800],
  // -5000 .. -4000
  [-.0235,-4280],[-.0195,-4730],[-.0155,-4150],[-.0125,-4560],[-.0095,-4910],[-.0065,-4340],[-.0035,-4690],
  [-.0005,-4120],[.0025,-4470],[.0055,-4830],[.0085,-4210],[.0105,-4620],[.0135,-4960],[.0165,-4380],[.0185,-4050],
  [.0215,-4740],[.0235,-4310],[.0265,-4580],[.0295,-4920],[.0315,-4240],[.0345,-4650],[.0375,-4090],[.0395,-4510],
  [.0425,-4860],[.0455,-4360],[.0475,-4720],[.0505,-4170],[.0535,-4540],[.0565,-4880],[.0605,-4270],[.0645,-4600],
  [.0685,-4950],[.0735,-4400],[.0795,-4760],[-.0145,-4860],[-.0045,-4420],[.0045,-4640],[.0125,-4270],[.0205,-4480],
  [.0285,-4120],[.0365,-4800],[.0445,-4530],[.0525,-4930],[.0625,-4150],[.0705,-4690],[.0075,-4990],[.0245,-4890],
  [.0415,-4230],[.0575,-4350],[-.0075,-4050],
  // -6000 .. -5000
  [-.0175,-5390],[-.0135,-5760],[-.0105,-5180],[-.0075,-5620],[-.0045,-5950],[-.0015,-5330],[.0015,-5690],
  [.0045,-5120],[.0075,-5480],[.0095,-5850],[.0125,-5250],[.0155,-5610],[.0175,-5030],[.0205,-5420],[.0225,-5880],
  [.0255,-5290],[.0285,-5650],[.0305,-5090],[.0335,-5510],[.0365,-5930],[.0385,-5360],[.0415,-5720],[.0445,-5160],
  [.0465,-5570],[.0495,-5990],[.0525,-5400],[.0555,-5770],[.0585,-5210],[.0625,-5600],[.0665,-5940],[.0705,-5320],
  [.0765,-5680],[.0835,-5470],[-.0115,-5020],[.0025,-5940],[.0105,-5580],[.0185,-5770],[.0265,-5060],[.0345,-5230],
  [.0425,-5460],[.0515,-5130],[.0605,-5860],[.0685,-5570],[.0045,-5360],[.0395,-5990],
  // -7000 .. -6000
  [-.0085,-6340],[-.0035,-6720],[.0005,-6180],[.0045,-6570],[.0085,-6930],[.0115,-6290],[.0145,-6650],[.0175,-6110],
  [.0205,-6480],[.0235,-6860],[.0265,-6240],[.0295,-6600],[.0325,-6070],[.0355,-6430],[.0385,-6810],[.0415,-6260],
  [.0445,-6690],[.0475,-6010],[.0505,-6390],[.0535,-6770],[.0565,-6200],[.0605,-6560],[.0645,-6920],[.0685,-6330],
  [.0735,-6700],[.0805,-6150],[.0025,-6850],[.0125,-6020],[.0225,-6400],[.0315,-6960],[.0395,-6120],[.0495,-6890],
  [.0585,-6460],[.0665,-6100],[.0185,-6740]
];

// second pass over the same dense region
var cloudDense = [
  // 2000 .. 3000
  [-.0125,2380],[-.0065,2760],[-.0015,2150],[.0035,2610],[.0075,2880],[.0125,2290],[.0165,2680],[.0215,2060],
  [.0255,2840],[.0295,2350],[.0335,2570],[.0375,2110],[.0415,2900],[.0465,2420],[.0515,2780],[.0575,2240],[.0635,2620],
  [-.0105,2540],[.0185,2430],[.0445,2190],
  // 1000 .. 2000
  [-.0175,1580],[-.0145,1130],[-.0115,1830],[-.0085,1420],[-.0055,1060],[-.0025,1690],[.0005,1270],[.0035,1880],
  [.0055,1490],[.0085,1110],[.0115,1740],[.0135,1330],[.0165,1960],[.0185,1200],[.0215,1610],[.0235,1040],[.0265,1780],
  [.0285,1370],[.0315,1150],[.0335,1850],[.0365,1500],[.0395,1080],[.0425,1710],[.0445,1260],[.0475,1420],[.0505,1900],
  [.0535,1180],[.0565,1540],[.0595,1320],[.0635,1760],[.0675,1090],[.0715,1480],[-.0205,1950],[-.0095,1290],[.0015,1060],
  [.0105,1540],[.0195,1890],[.0275,1250],[.0355,1640],[.0435,1960],[.0525,1600],[.0615,1880],[-.0045,1410],[.0255,1710],
  [.0405,1340],
  // 0 .. 1000
  [-.0225,650],[-.0185,210],[-.0155,780],[-.0125,440],[-.0095,90],[-.0075,870],[-.0045,530],[-.0015,180],[.0015,960],
  [.0035,620],[.0065,270],[.0085,840],[.0115,500],[.0135,20],[.0155,730],[.0175,380],[.0205,950],[.0225,160],[.0245,590],
  [.0275,320],[.0295,800],[.0315,440],[.0345,90],[.0365,680],[.0385,930],[.0415,240],[.0435,560],[.0465,850],[.0495,130],
  [.0515,700],[.0545,410],[.0575,980],[.0605,260],[.0645,580],[.0685,860],[.0725,340],[-.0265,120],[-.0165,530],
  [-.0055,760],[.0045,40],[.0105,690],[.0195,430],[.0255,870],[.0335,270],[.0405,480],[.0475,170],[.0535,880],[.0625,650],
  [.0705,120],[-.0105,990],[.0065,580],[.0145,300],[.0285,640],[.0455,340],[.0585,510],
  // -1000 .. 0
  [-.0245,-530],[-.0205,-900],[-.0175,-240],[-.0145,-610],[-.0115,-980],[-.0085,-350],[-.0055,-760],[-.0025,-120],
  [.0005,-540],[.0035,-880],[.0065,-200],[.0085,-670],[.0115,-420],[.0135,-960],[.0165,-280],[.0185,-710],[.0205,-50],
  [.0235,-490],[.0255,-840],[.0285,-180],[.0305,-600],[.0335,-950],[.0355,-360],[.0385,-770],[.0415,-110],[.0435,-520],
  [.0465,-890],[.0495,-230],[.0525,-640],[.0555,-980],[.0585,-310],[.0625,-700],[.0655,-80],[.0695,-480],[.0745,-820],
  [-.0275,-680],[-.0155,-80],[-.0065,-440],[.0025,-700],[.0095,-30],[.0155,-780],[.0225,-390],[.0315,-150],[.0375,-260],
  [.0455,-800],[.0535,-150],[.0605,-900],[.0675,-330],[-.0225,-300],[-.0035,-960],[.0125,-560],[.0265,-330],[.0345,-660],
  [.0425,-940],[.0505,-450],[.0575,-570],[.0725,-200],[-.0125,-800],[.0055,-350],[.0195,-900],
  // -2000 .. -1000
  [-.0255,-1380],[-.0215,-1840],[-.0185,-1150],[-.0155,-1630],[-.0125,-1270],[-.0095,-1900],[-.0065,-1490],
  [-.0035,-1110],[-.0005,-1680],[.0025,-1320],[.0055,-1960],[.0075,-1210],[.0105,-1580],[.0135,-1860],[.0155,-1400],
  [.0175,-1050],[.0205,-1730],[.0225,-1290],[.0255,-1620],[.0275,-1940],[.0305,-1360],[.0325,-1080],[.0355,-1770],
  [.0385,-1240],[.0405,-1540],[.0435,-1880],[.0465,-1130],[.0485,-1470],[.0515,-1810],[.0545,-1260],[.0575,-1600],
  [.0605,-1390],[.0645,-1930],[.0685,-1200],[.0735,-1720],[-.0275,-1910],[-.0145,-1530],[-.0055,-1800],[.0035,-1170],
  [.0115,-1410],[.0195,-1240],[.0285,-1510],[.0355,-1310],[.0425,-1090],[.0495,-1650],[.0565,-1940],[.0625,-1530],
  [.0715,-1290],[-.0195,-1290],[-.0025,-1400],[.0085,-1820],[.0165,-1700],[.0245,-1420],[.0335,-1990],[.0415,-1700],
  [.0535,-1020],[.0665,-1620],[-.0105,-1700],[.0005,-1020],[.0455,-1580],
  // -3000 .. -2000
  [-.0245,-2240],[-.0205,-2690],[-.0175,-2050],[-.0145,-2470],[-.0115,-2880],[-.0085,-2180],[-.0055,-2600],
  [-.0025,-2960],[.0005,-2290],[.0035,-2720],[.0065,-2060],[.0085,-2510],[.0115,-2830],[.0135,-2130],[.0165,-2590],
  [.0185,-2970],[.0215,-2310],[.0235,-2680],[.0265,-2090],[.0285,-2430],[.0315,-2790],[.0345,-2210],[.0365,-2640],
  [.0395,-2970],[.0425,-2360],[.0445,-2750],[.0475,-2150],[.0505,-2540],[.0535,-2910],[.0565,-2330],[.0595,-2700],
  [.0635,-2080],[.0675,-2460],[.0725,-2850],[.0775,-2250],[-.0265,-2820],[-.0155,-2280],[-.0065,-2420],[.0025,-2080],
  [.0095,-2350],[.0175,-2760],[.0245,-2560],[.0325,-2070],[.0395,-2490],[.0465,-2430],[.0545,-2620],[.0615,-2320],
  [.0695,-2620],[-.0195,-2920],[-.0035,-2380],[.0105,-2680],[.0225,-2190],[.0305,-2580],[.0375,-2140],[.0495,-2270],
  [.0585,-2900],[.0655,-2780],[-.0095,-2750],[.0155,-2410],[.0415,-2690],
  // -4000 .. -3000
  [-.0235,-3280],[-.0195,-3690],[-.0165,-3080],[-.0135,-3520],[-.0105,-3910],[-.0075,-3340],[-.0045,-3750],
  [-.0015,-3110],[.0015,-3560],[.0045,-3930],[.0075,-3200],[.0095,-3620],[.0125,-3040],[.0155,-3450],[.0175,-3870],
  [.0205,-3160],[.0225,-3580],[.0255,-3990],[.0275,-3370],[.0305,-3070],[.0325,-3790],[.0355,-3420],[.0385,-3140],
  [.0405,-3610],[.0435,-3950],[.0465,-3230],[.0485,-3660],[.0515,-3080],[.0545,-3470],[.0575,-3820],[.0605,-3300],
  [.0645,-3700],[.0685,-3120],[.0725,-3550],[.0785,-3930],[-.0255,-3920],[-.0155,-3240],[-.0065,-3560],[.0025,-3270],
  [.0105,-3780],[.0185,-3420],[.0265,-3170],[.0345,-3880],[.0415,-3480],[.0495,-3830],[.0565,-3140],[.0635,-3420],
  [.0715,-3240],[-.0205,-3630],[-.0025,-3060],[.0055,-3480],[.0145,-3900],[.0235,-3760],[.0315,-3480],[.0395,-3780],
  [.0455,-3540],[.0535,-3290],[.0615,-3910],[-.0115,-3470],[.0285,-3670],
  // -5000 .. -4000
  [-.0215,-4460],[-.0175,-4870],[-.0145,-4280],[-.0115,-4690],[-.0085,-4130],[-.0055,-4550],[-.0025,-4930],
  [.0005,-4350],[.0035,-4760],[.0065,-4180],[.0095,-4500],[.0115,-4890],[.0145,-4320],[.0175,-4710],[.0195,-4100],
  [.0225,-4430],[.0255,-4820],[.0275,-4260],[.0305,-4640],[.0335,-4030],[.0355,-4480],[.0385,-4900],[.0405,-4330],
  [.0435,-4600],[.0465,-4140],[.0485,-4840],[.0515,-4420],[.0545,-4090],[.0575,-4650],[.0615,-4380],[.0655,-4800],
  [.0695,-4200],[.0745,-4560],[.0815,-4340],[-.0235,-4780],[-.0125,-4000],[-.0035,-4300],[.0055,-4440],[.0135,-4660],
  [.0215,-4950],[.0295,-4390],[.0375,-4630],[.0455,-4740],[.0525,-4240],[.0595,-4990],[.0675,-4490],[-.0065,-4770],
  [.0085,-4880],[.0165,-4560],[.0245,-4160],[.0325,-4880],[.0395,-4170],[.0505,-4580],[.0635,-4070],[.0195,-4620],
  // -6000 .. -5000
  [-.0155,-5570],[-.0115,-5260],[-.0085,-5830],[-.0055,-5440],[-.0025,-5110],[.0005,-5760],[.0035,-5380],[.0065,-5970],
  [.0085,-5220],[.0115,-5640],[.0135,-5070],[.0165,-5480],[.0195,-5900],[.0215,-5300],[.0245,-5640],[.0275,-5150],
  [.0295,-5510],[.0325,-5880],[.0355,-5290],[.0375,-5660],[.0405,-5100],[.0435,-5490],[.0455,-5840],[.0485,-5240],
  [.0515,-5600],[.0545,-5060],[.0575,-5450],[.0615,-5790],[.0655,-5280],[.0695,-5660],[.0755,-5340],[-.0135,-5960],
  [-.0035,-5670],[.0055,-5090],[.0145,-5800],[.0235,-5080],[.0315,-5360],[.0395,-5570],[.0475,-5000],[.0555,-5950],
  [.0635,-5490],[.0715,-5900],[.0105,-5360],[.0265,-5960],[.0445,-5320],
  // -7000 .. -6000
  [-.0055,-6560],[-.0015,-6130],[.0035,-6780],[.0075,-6360],[.0105,-6700],[.0135,-6180],[.0165,-6540],[.0195,-6930],
  [.0225,-6270],[.0255,-6660],[.0285,-6080],[.0315,-6450],[.0345,-6820],[.0375,-6230],[.0405,-6590],[.0435,-6960],
  [.0465,-6360],[.0495,-6140],[.0525,-6510],[.0555,-6880],[.0595,-6300],[.0635,-6640],[.0675,-6060],[.0725,-6460],
  [.0785,-6820],[.0015,-6460],[.0155,-6880],[.0285,-6740],[.0425,-6320],[.0565,-6060]
];

var points = sparsePoints.concat(cloudPoints, cloudCore, cloudDense);

var width = 1595,
    height = 866;

var x = d3.scaleLinear()
    .domain([-0.15, 0.2])
    .range([87, 1433]);

var y = d3.scaleLinear()
    .domain([-20000, 10000])
    .range([838, 121]);

var svg = d3.select("body").append("svg")
    .attr("width", width)
    .attr("height", height);

// slide frame
var defs = svg.append("defs");

var leftGrad = defs.append("linearGradient")
    .attr("id", "leftGrad")
    .attr("x1", 0).attr("y1", 0).attr("x2", 0).attr("y2", 1);
leftGrad.append("stop").attr("offset", "0%").attr("stop-color", "#0a125c");
leftGrad.append("stop").attr("offset", "50%").attr("stop-color", "#0f2c86");
leftGrad.append("stop").attr("offset", "100%").attr("stop-color", "#1d52b4");

var topGrad = defs.append("linearGradient")
    .attr("id", "topGrad")
    .attr("x1", 0).attr("y1", 0).attr("x2", 1).attr("y2", 0);
topGrad.append("stop").attr("offset", "0%").attr("stop-color", "#33339f");
topGrad.append("stop").attr("offset", "60%").attr("stop-color", "#4848c2");
topGrad.append("stop").attr("offset", "100%").attr("stop-color", "#3d4cc0");

var rightGrad = defs.append("linearGradient")
    .attr("id", "rightGrad")
    .attr("x1", 0).attr("y1", 0).attr("x2", 0).attr("y2", 1);
rightGrad.append("stop").attr("offset", "0%").attr("stop-color", "#2a44b4");
rightGrad.append("stop").attr("offset", "100%").attr("stop-color", "#1e50b6");

svg.append("rect")
    .attr("width", width).attr("height", height)
    .attr("fill", "#fff");

svg.append("rect")
    .attr("x", 0).attr("y", 0).attr("width", width).attr("height", 6)
    .attr("fill", "url(#topGrad)");

svg.append("rect")
    .attr("x", 0).attr("y", 0).attr("width", 9).attr("height", height)
    .attr("fill", "url(#leftGrad)");

svg.append("rect")
    .attr("x", 1587).attr("y", 0).attr("width", 8).attr("height", height)
    .attr("fill", "url(#rightGrad)");

// axes cross at the origin
var xAxis = d3.axisBottom(x)
    .tickValues(xTicks)
    .tickSize(6)
    .tickSizeOuter(0)
    .tickPadding(22)
    .tickFormat(function(d) { return String(d); });

var yAxis = d3.axisLeft(y)
    .tickValues(yTicks)
    .tickSize(6)
    .tickSizeOuter(0)
    .tickPadding(14)
    .tickFormat(function(d) { return String(d); });

var xg = svg.append("g")
    .attr("class", "x axis")
    .attr("transform", "translate(0," + y(0) + ")")
    .call(xAxis);

svg.append("g")
    .attr("class", "y axis")
    .attr("transform", "translate(" + x(0) + ",0)")
    .call(yAxis);

// the 0.05 label sits in its own white box above the points
xg.selectAll(".tick").filter(function(d) { return d === 0.05; })
    .select("text").remove();

svg.selectAll(".dot")
    .data(points)
  .enter().append("circle")
    .attr("class", "dot")
    .attr("r", 2.8)
    .attr("cx", function(d) { return x(d[0]); })
    .attr("cy", function(d) { return y(d[1]); });

svg.append("line")
    .attr("x1", x(thresholdLine[0][0]))
    .attr("y1", y(thresholdLine[0][1]))
    .attr("x2", x(thresholdLine[1][0]))
    .attr("y2", y(thresholdLine[1][1]))
    .attr("stroke", "#000")
    .attr("stroke-width", 2.2);

var box = svg.append("g")
    .attr("class", "tick-box")
    .attr("transform", "translate(" + (x(0.05) + 10) + "," + y(0) + ")");

box.append("rect")
    .attr("x", -31).attr("y", 19)
    .attr("width", 63).attr("height", 34)
    .attr("fill", "#fff")
    .attr("stroke", "#d8d8d8")
    .attr("stroke-width", 1);

box.append("text")
    .attr("y", 28)
    .attr("dy", "0.71em")
    .attr("text-anchor", "middle")
    .text("0.05");

// arrow to the threshold line
var c = arrowCurve.map(function(p) { return [x(p[0]), y(p[1])]; });
svg.append("path")
    .attr("d", "M" + c[0] + "C" + c[1] + " " + c[2] + " " + c[3])
    .attr("fill", "none")
    .attr("stroke", "#000")
    .attr("stroke-width", 3);

svg.append("path")
    .attr("d", "M" + arrowHead.map(function(p) { return [x(p[0]), y(p[1])]; }).join("L") + "Z")
    .attr("fill", "#000");

// titles and quadrant captions
var labels = [
  {text: "Cost difference in $ US", x: 477, y: 47, size: 35, len: 391},
  {text: "Threshold 50 000 USD/QALY", x: 1099, y: 93, size: 30, len: 413},
  {text: "Outcome difference", x: 1251, y: 475, size: 33, len: 330}
];

var quads = [
  {text: "PCI more expensive with a", x: 13, y: 233, len: 377},
  {text: "negative health outcome", x: 13, y: 269, len: 344},
  {text: "PCI more expensive with a", x: 1186, y: 235, len: 375},
  {text: "positive health outcome", x: 1186, y: 271, len: 333},
  {text: "PCI less expensive with a", x: 13, y: 667, len: 359},
  {text: "negative health outcome", x: 13, y: 702, len: 342},
  {text: "PCI less expensive with a", x: 1198, y: 667, len: 360},
  {text: "positive health outcome", x: 1198, y: 702, len: 332}
];

svg.selectAll(".title")
    .data(labels)
  .enter().append("text")
    .attr("class", "label title")
    .attr("x", function(d) { return d.x; })
    .attr("y", function(d) { return d.y; })
    .attr("font-size", function(d) { return d.size; })
    .attr("textLength", function(d) { return d.len; })
    .attr("lengthAdjust", "spacingAndGlyphs")
    .text(function(d) { return d.text; });

svg.selectAll(".quad")
    .data(quads)
  .enter().append("text")
    .attr("class", "label quad")
    .attr("x", function(d) { return d.x; })
    .attr("y", function(d) { return d.y; })
    .attr("textLength", function(d) { return d.len; })
    .attr("lengthAdjust", "spacingAndGlyphs")
    .text(function(d) { return d.text; });

</script>
